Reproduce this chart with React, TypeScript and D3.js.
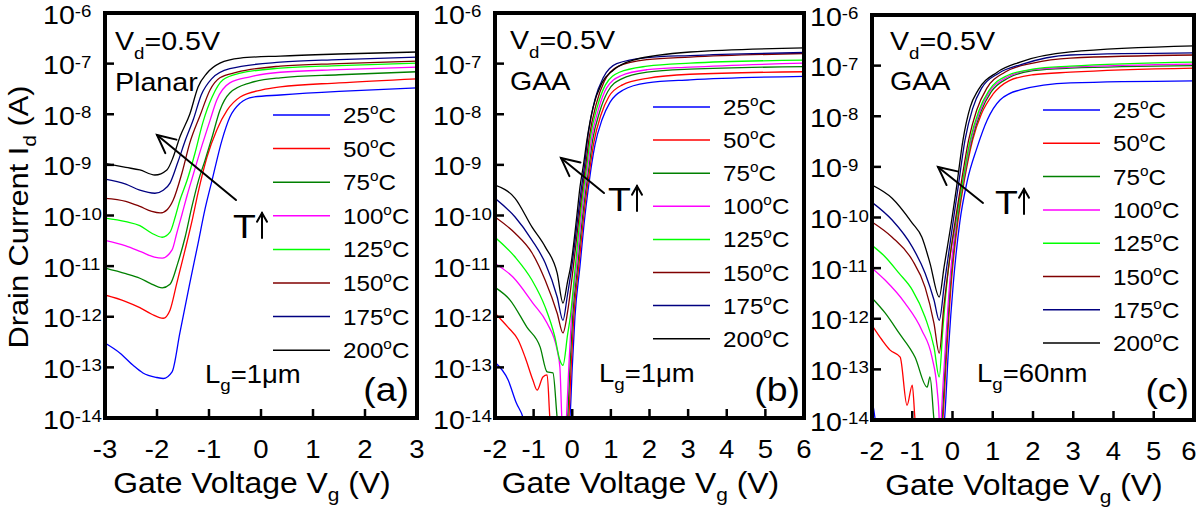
import React from "react";
import * as d3 from "d3";

// ---------------- data ----------------
const temps = ["25", "50", "75", "100", "125", "150", "175", "200"];
const curveColors = ["#0000ff", "#ff0000", "#008000", "#ff00ff", "#00ff00", "#800000", "#000080", "#000000"];

const yExponents = [-6, -7, -8, -9, -10, -11, -12, -13, -14];
const xTicksA = [-3, -2, -1, 0, 1, 2, 3];
const xTicksBC = [-2, -1, 0, 1, 2, 3, 4, 5, 6];

// Panel (a) Planar, Lg = 1um : [Vg (V), log10(Id / A)]
const a25 = [[-3, -12.52], [-2.71, -12.72], [-2.46, -12.96], [-2.27, -13.11], [-2.0, -13.2], [-1.88, -13.22], [-1.71, -13.09], [-1.56, -12.32], [-1.37, -11.34], [-1.21, -10.55], [-1.08, -9.89], [-0.94, -9.3], [-0.75, -8.51], [-0.6, -8.06], [-0.4, -7.78], [-0.15, -7.66], [0.37, -7.62], [1.5, -7.55], [3, -7.48]];
const a50 = [[-3, -11.57], [-2.6, -11.7], [-2.33, -11.82], [-2.1, -11.95], [-1.88, -12.03], [-1.75, -11.87], [-1.62, -11.34], [-1.46, -10.68], [-1.31, -10.03], [-1.21, -9.55], [-1.04, -8.85], [-0.85, -8.31], [-0.65, -7.92], [-0.4, -7.66], [0.02, -7.52], [0.37, -7.46], [1.5, -7.38], [3, -7.3]];
const a75 = [[-3, -11.04], [-2.6, -11.15], [-2.33, -11.24], [-2.13, -11.34], [-1.9, -11.43], [-1.75, -11.36], [-1.6, -10.94], [-1.46, -10.43], [-1.33, -9.83], [-1.2, -9.3], [-1.08, -8.92], [-0.94, -8.45], [-0.79, -7.92], [-0.6, -7.58], [-0.21, -7.38], [0.37, -7.28], [1.5, -7.22], [3, -7.16]];
const a100 = [[-3, -10.49], [-2.6, -10.6], [-2.3, -10.72], [-2.05, -10.82], [-1.9, -10.84], [-1.71, -10.68], [-1.62, -10.35], [-1.52, -9.98], [-1.42, -9.6], [-1.32, -9.25], [-1.13, -8.6], [-0.98, -8.12], [-0.85, -7.72], [-0.6, -7.38], [-0.21, -7.26], [0.37, -7.17], [1.5, -7.12], [3, -7.07]];
const a125 = [[-3, -10.05], [-2.6, -10.12], [-2.33, -10.2], [-2.1, -10.35], [-1.9, -10.43], [-1.75, -10.33], [-1.65, -10.03], [-1.56, -9.7], [-1.42, -9.3], [-1.27, -8.77], [-1.12, -8.17], [-0.94, -7.66], [-0.73, -7.32], [-0.4, -7.19], [0.37, -7.09], [1.5, -7.04], [3, -6.99]];
const a150 = [[-3, -9.66], [-2.6, -9.72], [-2.33, -9.82], [-2.1, -9.92], [-1.94, -9.95], [-1.8, -9.88], [-1.69, -9.7], [-1.52, -9.16], [-1.37, -8.57], [-1.17, -8.02], [-0.98, -7.52], [-0.79, -7.28], [-0.46, -7.17], [0.37, -7.05], [1.5, -7.0], [3, -6.95]];
const a175 = [[-3, -9.28], [-2.6, -9.38], [-2.33, -9.5], [-2.04, -9.56], [-1.88, -9.5], [-1.75, -9.36], [-1.6, -8.95], [-1.45, -8.5], [-1.3, -8.1], [-1.15, -7.62], [-0.95, -7.3], [-0.6, -7.1], [0.37, -6.97], [1.5, -6.92], [3, -6.87]];
const a200 = [[-3, -8.97], [-2.6, -9.05], [-2.33, -9.1], [-2.04, -9.2], [-1.81, -9.1], [-1.69, -8.85], [-1.56, -8.45], [-1.37, -8.0], [-1.21, -7.46], [-1.04, -7.19], [-0.79, -6.99], [-0.4, -6.89], [0.37, -6.85], [1.5, -6.81], [3, -6.77]];

// Panel (b) GAA, Lg = 1um
const b25 = [[-2, -12.9], [-1.66, -13.25], [-1.45, -13.7], [-1.27, -14.0], [-1.1, -14.6], [-0.2, -14.6], [-0.06, -14.0], [0.0, -13.0], [0.07, -12.0], [0.2, -11.0], [0.33, -10.0], [0.41, -9.5], [0.5, -9.0], [0.59, -8.6], [0.77, -8.11], [0.98, -7.76], [1.32, -7.52], [1.94, -7.38], [3.05, -7.32], [6, -7.25]];
const b50 = [[-2, -11.93], [-1.66, -12.21], [-1.4, -12.46], [-1.22, -12.8], [-1.02, -13.25], [-0.91, -13.45], [-0.76, -13.19], [-0.65, -13.15], [-0.58, -14.0], [-0.5, -14.6], [-0.22, -14.6], [-0.09, -14.0], [-0.03, -13.0], [0.04, -12.0], [0.17, -11.0], [0.3, -10.0], [0.38, -9.5], [0.47, -9.0], [0.56, -8.55], [0.74, -8.02], [0.95, -7.65], [1.3, -7.42], [1.94, -7.29], [3.05, -7.21], [6, -7.16]];
const b75 = [[-2, -11.42], [-1.61, -11.67], [-1.17, -12.21], [-0.83, -12.6], [-0.65, -13.09], [-0.5, -13.11], [-0.39, -14.0], [-0.3, -14.6], [-0.24, -14.6], [-0.12, -14.0], [-0.06, -13.0], [0.01, -12.0], [0.14, -11.0], [0.27, -10.0], [0.35, -9.5], [0.44, -9.0], [0.53, -8.5], [0.71, -7.95], [0.92, -7.55], [1.28, -7.3], [1.94, -7.17], [3.05, -7.11], [6, -7.06]];
const b100 = [[-2, -10.95], [-1.53, -11.22], [-1.02, -11.73], [-0.65, -12.13], [-0.39, -12.66], [-0.32, -13.0], [-0.27, -14.0], [-0.21, -14.6], [-0.15, -14.0], [-0.09, -13.0], [-0.02, -12.0], [0.11, -11.0], [0.24, -10.0], [0.32, -9.5], [0.41, -9.0], [0.5, -8.48], [0.68, -7.9], [0.89, -7.48], [1.26, -7.24], [1.94, -7.12], [3.05, -7.07], [6, -6.99]];
const b125 = [[-2, -10.43], [-1.48, -10.82], [-1.04, -11.28], [-0.7, -11.81], [-0.45, -12.4], [-0.32, -12.86], [-0.24, -12.96], [-0.12, -12.35], [-0.05, -12.0], [0.08, -11.0], [0.21, -10.0], [0.29, -9.5], [0.38, -9.0], [0.47, -8.45], [0.65, -7.85], [0.86, -7.42], [1.22, -7.17], [1.94, -7.05], [3.05, -6.99], [6, -6.93]];
const b150 = [[-2, -10.03], [-1.48, -10.35], [-1.04, -10.74], [-0.7, -11.28], [-0.39, -11.93], [-0.24, -12.32], [-0.12, -11.9], [0.03, -11.0], [0.18, -10.0], [0.26, -9.5], [0.35, -9.0], [0.44, -8.45], [0.62, -7.8], [0.83, -7.35], [1.2, -7.05], [1.94, -6.92], [3.05, -6.87], [6, -6.8]];
const b175 = [[-2, -9.66], [-1.48, -10.03], [-1.04, -10.49], [-0.7, -10.94], [-0.39, -11.61], [-0.24, -12.07], [-0.13, -11.6], [-0.01, -11.0], [0.15, -10.0], [0.23, -9.5], [0.32, -9.0], [0.41, -8.4], [0.59, -7.7], [0.8, -7.28], [1.15, -7.0], [1.94, -6.88], [3.05, -6.84], [6, -6.78]];
const b200 = [[-2, -9.4], [-1.48, -9.66], [-1.04, -10.23], [-0.7, -10.62], [-0.39, -11.14], [-0.24, -11.73], [-0.12, -11.3], [-0.04, -11.0], [0.12, -10.0], [0.2, -9.44], [0.29, -9.0], [0.38, -8.51], [0.54, -7.86], [0.77, -7.38], [1.06, -7.13], [1.58, -6.93], [3.05, -6.77], [6, -6.69]];

// Panel (c) GAA, Lg = 60nm
const c25 = [[-2, -13.6], [-1.92, -14.0], [-1.85, -14.6], [-0.35, -14.6], [-0.2, -14.0], [-0.1, -12.6], [0.02, -11.3], [0.18, -10.1], [0.36, -9.3], [0.61, -8.62], [0.86, -8.08], [1.18, -7.68], [1.68, -7.48], [2.93, -7.34], [6, -7.3]];
const c50 = [[-2, -12.13], [-1.75, -12.42], [-1.55, -12.62], [-1.3, -12.76], [-1.13, -13.71], [-1.0, -13.31], [-0.93, -14.0], [-0.8, -14.6], [-0.35, -14.6], [-0.24, -14.0], [-0.14, -12.6], [-0.02, -11.2], [0.14, -10.05], [0.31, -9.2], [0.5, -8.47], [0.72, -7.95], [1.0, -7.57], [1.4, -7.3], [2.0, -7.18], [2.93, -7.13], [6, -7.05]];
const c75 = [[-2, -11.59], [-1.67, -11.89], [-1.33, -12.28], [-0.93, -12.76], [-0.63, -13.35], [-0.56, -13.15], [-0.46, -14.0], [-0.38, -14.6], [-0.33, -14.6], [-0.26, -14.0], [-0.16, -12.6], [-0.04, -11.2], [0.12, -10.05], [0.29, -9.22], [0.48, -8.47], [0.7, -7.92], [0.96, -7.52], [1.4, -7.24], [2.0, -7.1], [2.93, -7.05], [6, -7.0]];
const c100 = [[-2, -11.0], [-1.67, -11.24], [-1.18, -11.69], [-0.76, -12.23], [-0.51, -12.76], [-0.38, -13.41], [-0.33, -14.0], [-0.31, -14.6], [-0.28, -14.0], [-0.18, -12.6], [-0.06, -11.2], [0.1, -10.05], [0.27, -9.25], [0.46, -8.47], [0.68, -7.9], [0.93, -7.5], [1.38, -7.22], [2.0, -7.08], [2.93, -7.03], [6, -6.97]];
const c125 = [[-2, -10.55], [-1.67, -10.78], [-1.33, -11.1], [-1.0, -11.43], [-0.68, -11.97], [-0.46, -12.56], [-0.33, -13.15], [-0.24, -12.2], [-0.1, -11.0], [0.1, -10.0], [0.25, -9.3], [0.44, -8.47], [0.65, -7.9], [0.9, -7.5], [1.35, -7.2], [2.0, -7.07], [2.93, -7.01], [6, -6.93]];
const c150 = [[-2, -10.09], [-1.5, -10.39], [-1.0, -10.84], [-0.68, -11.38], [-0.46, -12.09], [-0.33, -12.68], [-0.22, -11.8], [-0.05, -10.7], [0.08, -10.0], [0.22, -9.3], [0.4, -8.47], [0.6, -7.88], [0.85, -7.45], [1.3, -7.13], [2.0, -6.95], [2.93, -6.85], [6, -6.79]];
const c175 = [[-2, -9.7], [-1.5, -10.05], [-1.0, -10.58], [-0.68, -11.1], [-0.46, -11.63], [-0.33, -12.03], [-0.2, -11.3], [0.03, -10.0], [0.14, -9.4], [0.31, -8.47], [0.5, -7.85], [0.72, -7.45], [1.15, -7.15], [1.7, -6.98], [2.93, -6.79], [6, -6.75]];
const c200 = [[-2, -9.36], [-1.5, -9.62], [-1.0, -10.11], [-0.76, -10.39], [-0.56, -10.9], [-0.33, -11.57], [-0.21, -10.98], [-0.01, -10.0], [0.09, -9.46], [0.26, -8.47], [0.44, -7.82], [0.64, -7.48], [1.11, -7.13], [1.68, -6.93], [2.93, -6.73], [6, -6.61]];

const panelAData = [a25, a50, a75, a100, a125, a150, a175, a200];
const panelBData = [b25, b50, b75, b100, b125, b150, b175, b200];
const panelCData = [c25, c50, c75, c100, c125, c150, c175, c200];

// ---------------- layout ----------------
const FONT = "'Liberation Sans', Arial, Helvetica, sans-serif";
const SX = 1.1;
const W = 1200;

const panels = [
  {
    id: "a", left: 105, right: 417, top: 13, bottom: 418, xDomain: [-3, 3], xTicks: xTicksA, data: panelAData,
    legend: { x1: 273, x2: 330, tx: 343, y0: 115, dy: 33.6 },
    cond: { x: 115, y: 50 }, dev: { text: "Planar", x: 115, y: 91 },
    arrow: { x1: 236, y1: 200, x2: 157, y2: 135 }, tUp: { x: 233, y: 238 },
    lg: { text: "=1\u03bcm", x: 205, y: 383 }, tag: { text: "(a)", x: 409, y: 401 },
  },
  {
    id: "b", left: 495, right: 804, top: 13, bottom: 418, xDomain: [-2, 6], xTicks: xTicksBC, data: panelBData,
    legend: { x1: 653, x2: 710, tx: 723, y0: 107, dy: 33.1 },
    cond: { x: 510, y: 49 }, dev: { text: "GAA", x: 510, y: 90 },
    arrow: { x1: 604, y1: 193, x2: 561, y2: 158 }, tUp: { x: 608, y: 211 },
    lg: { text: "=1\u03bcm", x: 599, y: 382 }, tag: { text: "(b)", x: 800, y: 401 },
  },
  {
    id: "c", left: 872, right: 1194, top: 15, bottom: 420, xDomain: [-2, 6], xTicks: xTicksBC, data: panelCData,
    legend: { x1: 1043, x2: 1100, tx: 1113, y0: 110, dy: 33.3 },
    cond: { x: 890, y: 50 }, dev: { text: "GAA", x: 890, y: 90 },
    arrow: { x1: 983, y1: 203, x2: 938, y2: 167 }, tUp: { x: 995, y: 214 },
    lg: { text: "=60nm", x: 977, y: 382 }, tag: { text: "(c)", x: 1189, y: 402 },
  },
];

function Txt({ x, y, size, anchor = "start", rot = 0, children }: any) {
  return (
    <text
      transform={`translate(${x},${y})${rot ? ` rotate(${rot})` : ""} scale(${SX},1)`}
      fontSize={size}
      textAnchor={anchor}
      fontFamily={FONT}
      fill="#000"
    >
      {children}
    </text>
  );
}

function Arrow({ x1, y1, x2, y2, head = 20, ang = 26, sw = 2 }: any) {
  const a = Math.atan2(y2 - y1, x2 - x1);
  const r = (ang * Math.PI) / 180;
  const w1 = [x2 - head * Math.cos(a - r), y2 - head * Math.sin(a - r)];
  const w2 = [x2 - head * Math.cos(a + r), y2 - head * Math.sin(a + r)];
  return (
    <g stroke="#000" strokeWidth={sw} fill="none" strokeLinecap="round">
      <line x1={x1} y1={y1} x2={x2} y2={y2} />
      <polyline points={`${w1[0]},${w1[1]} ${x2},${y2} ${w2[0]},${w2[1]}`} />
    </g>
  );
}

function Panel({ p }: any) {
  const x = d3.scaleLinear().domain(p.xDomain).range([p.left, p.right]);
  const y = d3.scaleLog().domain([1e-14, 1e-6]).range([p.bottom, p.top]);
  const line = d3
    .line<number[]>()
    .x((d) => x(d[0]))
    .y((d) => y(Math.pow(10, d[1])))
    .curve(d3.curveMonotoneX);
  const clipId = `clip-${p.id}`;
  const cx = (p.left + p.right) / 2 - 9;
  return (
    <g>
      <defs>
        <clipPath id={clipId}>
          <rect x={p.left} y={p.top} width={p.right - p.left} height={p.bottom - p.top} />
        </clipPath>
      </defs>
      <g clipPath={`url(#${clipId})`}>
        {p.data.map((d: number[][], i: number) => (
          <path key={i} d={line(d) || ""} fill="none" stroke={curveColors[i]} strokeWidth={1.3} />
        ))}
      </g>
      {/* ticks */}
      {yExponents.map((e) => (
        <line key={"yt" + e} x1={p.left} x2={p.left + 9} y1={y(Math.pow(10, e))} y2={y(Math.pow(10, e))} stroke="#000" strokeWidth={2.5} />
      ))}
      {p.xTicks.map((t: number) => (
        <line key={"xt" + t} x1={x(t)} x2={x(t)} y1={p.bottom} y2={p.bottom - 9} stroke="#000" strokeWidth={2.5} />
      ))}
      <rect x={p.left} y={p.top} width={p.right - p.left} height={p.bottom - p.top} fill="none" stroke="#000" strokeWidth={4} />
      {/* tick labels */}
      {yExponents.map((e) => (
        <Txt key={"yl" + e} x={p.left - 62} y={y(Math.pow(10, e)) + 10.5} size={26}>
          10<tspan dy={-6.5} fontSize={17}>{String(e)}</tspan>
        </Txt>
      ))}
      {p.xTicks.map((t: number) => (
        <Txt key={"xl" + t} x={Math.min(x(t), W - 11)} y={p.bottom + 40} size={25} anchor="middle">
          {String(t)}
        </Txt>
      ))}
      <Txt x={cx} y={p.bottom + 75} size={29} anchor="middle">
        Gate Voltage V<tspan dy={8} fontSize={19}>g</tspan><tspan dy={-8}> (V)</tspan>
      </Txt>
      {/* legend */}
      {temps.map((t, i) => {
        const ly = p.legend.y0 + i * p.legend.dy;
        return (
          <g key={"lg" + t}>
            <line x1={p.legend.x1} x2={p.legend.x2} y1={ly} y2={ly} stroke={curveColors[i]} strokeWidth={1.5} />
            <Txt x={p.legend.tx} y={ly + 8} size={22}>
              {t}<tspan dy={-9} fontSize={14}>o</tspan><tspan dy={9}>C</tspan>
            </Txt>
          </g>
        );
      })}
      {/* annotations */}
      <Txt x={p.cond.x} y={p.cond.y} size={26}>
        V<tspan dy={9} fontSize={17}>d</tspan><tspan dy={-9}>=0.5V</tspan>
      </Txt>
      <Txt x={p.dev.x} y={p.dev.y} size={26}>{p.dev.text}</Txt>
      <Arrow {...p.arrow} />
      <Txt x={p.tUp.x} y={p.tUp.y} size={34}>T</Txt>
      <Arrow x1={p.tUp.x + 29} y1={p.tUp.y} x2={p.tUp.x + 29} y2={p.tUp.y - 25} head={10} ang={30} sw={2} />
      <Txt x={p.lg.x} y={p.lg.y} size={25}>
        L<tspan dy={8} fontSize={17}>g</tspan><tspan dy={-8}>{p.lg.text}</tspan>
      </Txt>
      <Txt x={p.tag.x} y={p.tag.y} size={34} anchor="end">{p.tag.text}</Txt>
    </g>
  );
}

export default function App() {
  return (
    <svg
      width={W}
      height={515}
      viewBox="0 0 1200 515"
      style={{ position: "absolute", left: 0, top: 0, background: "#fff", display: "block" }}
    >
      <rect x={0} y={0} width={1200} height={515} fill="#fff" />
      <Txt x={28} y={217} size={28} anchor="middle" rot={-90}>
        Drain Current I<tspan dy={8} fontSize={19}>d</tspan><tspan dy={-8}> (A)</tspan>
      </Txt>
      {panels.map((p) => (
        <Panel key={p.id} p={p} />
      ))}
    </svg>
  );
}
